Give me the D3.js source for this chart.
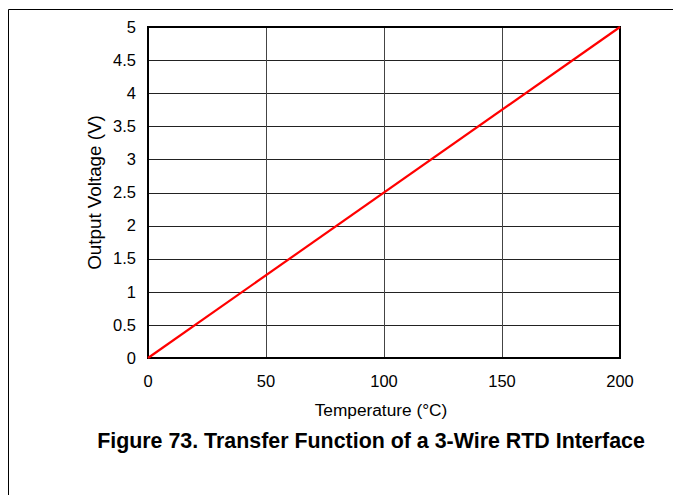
<!DOCTYPE html>
<html>
<head>
<meta charset="utf-8">
<script src="https://cdn.jsdelivr.net/npm/d3@7"></script>
<style>
  body { margin: 0; background: #fff; }
  text { font-family: "Liberation Sans", Arial, sans-serif; fill: #000; }
</style>
</head>
<body>
<div id="chart-container"></div>
<script>
// transfer function: output voltage vs temperature
const temperature = [0, 200]
const voltage = [0, 5]
const xTicks = [0, 50, 100, 150, 200]
const yTicks = [0, 0.5, 1, 1.5, 2, 2.5, 3, 3.5, 4, 4.5, 5]
const caption = 'Figure 73. Transfer Function of a 3-Wire RTD Interface'

const width = 673
const height = 495
const margin = {left: 148, top: 27, right: 53, bottom: 137}
const innerW = width - margin.left - margin.right
const innerH = height - margin.top - margin.bottom

const svg = d3.select('#chart-container')
  .append('svg')
  .attr('width', width)
  .attr('height', height)

// page border (top and left rules)
svg.append('line').attr('x1', 8.5).attr('x2', width).attr('y1', 9.5).attr('y2', 9.5)
  .attr('stroke', '#000').attr('stroke-width', 1)
svg.append('line').attr('x1', 8.5).attr('x2', 8.5).attr('y1', 9.5).attr('y2', height)
  .attr('stroke', '#000').attr('stroke-width', 1)

const g = svg.append('g')
  .attr('transform', `translate(${margin.left}, ${margin.top})`)

const x = d3.scaleLinear().domain([0, 200]).range([0, innerW])
const y = d3.scaleLinear().domain([0, 5]).range([innerH, 0])

// grid
g.selectAll('.hgrid')
  .data(yTicks)
  .enter()
  .append('line')
  .attr('x1', 0).attr('x2', innerW)
  .attr('y1', d => Math.round(y(d)) + 0.5)
  .attr('y2', d => Math.round(y(d)) + 0.5)
  .attr('stroke', '#222').attr('stroke-width', 1)

g.selectAll('.vgrid')
  .data(xTicks)
  .enter()
  .append('line')
  .attr('y1', 0).attr('y2', innerH)
  .attr('x1', d => Math.round(x(d)) + 0.5)
  .attr('x2', d => Math.round(x(d)) + 0.5)
  .attr('stroke', '#444').attr('stroke-width', 1)

// frame
g.append('rect')
  .attr('x', 0).attr('y', 0)
  .attr('width', innerW).attr('height', innerH)
  .attr('fill', 'none').attr('stroke', '#000').attr('stroke-width', 2)

// tick labels
g.selectAll('.ylab')
  .data(yTicks)
  .enter()
  .append('text')
  .attr('x', -12)
  .attr('y', d => y(d))
  .attr('dy', '0.35em')
  .attr('text-anchor', 'end')
  .style('font-size', '16.5px')
  .text(d => d)

g.selectAll('.xlab')
  .data(xTicks)
  .enter()
  .append('text')
  .attr('x', d => x(d))
  .attr('y', innerH + 29)
  .attr('text-anchor', 'middle')
  .style('font-size', '16.5px')
  .text(d => d)

// axis titles
g.append('text')
  .attr('x', innerW / 2 - 3)
  .attr('y', innerH + 58)
  .attr('text-anchor', 'middle')
  .style('font-size', '17.3px')
  .text('Temperature (\u00b0C)')

g.append('text')
  .attr('transform', `translate(${-margin.left + 101}, ${innerH / 2}) rotate(-90)`)
  .attr('text-anchor', 'middle')
  .style('font-size', '18.8px')
  .text('Output Voltage (V)')

// data line
const line = d3.line()
  .x((d, i) => x(temperature[i]))
  .y(d => y(d))

g.append('path')
  .datum(voltage)
  .attr('d', line)
  .attr('fill', 'none')
  .attr('stroke', '#ff0000')
  .attr('stroke-width', 2.2)

// caption
svg.append('text')
  .attr('x', 371)
  .attr('y', 448)
  .attr('text-anchor', 'middle')
  .style('font-size', '21.4px')
  .style('font-weight', 'bold')
  .text(caption)
</script>
</body>
</html>
